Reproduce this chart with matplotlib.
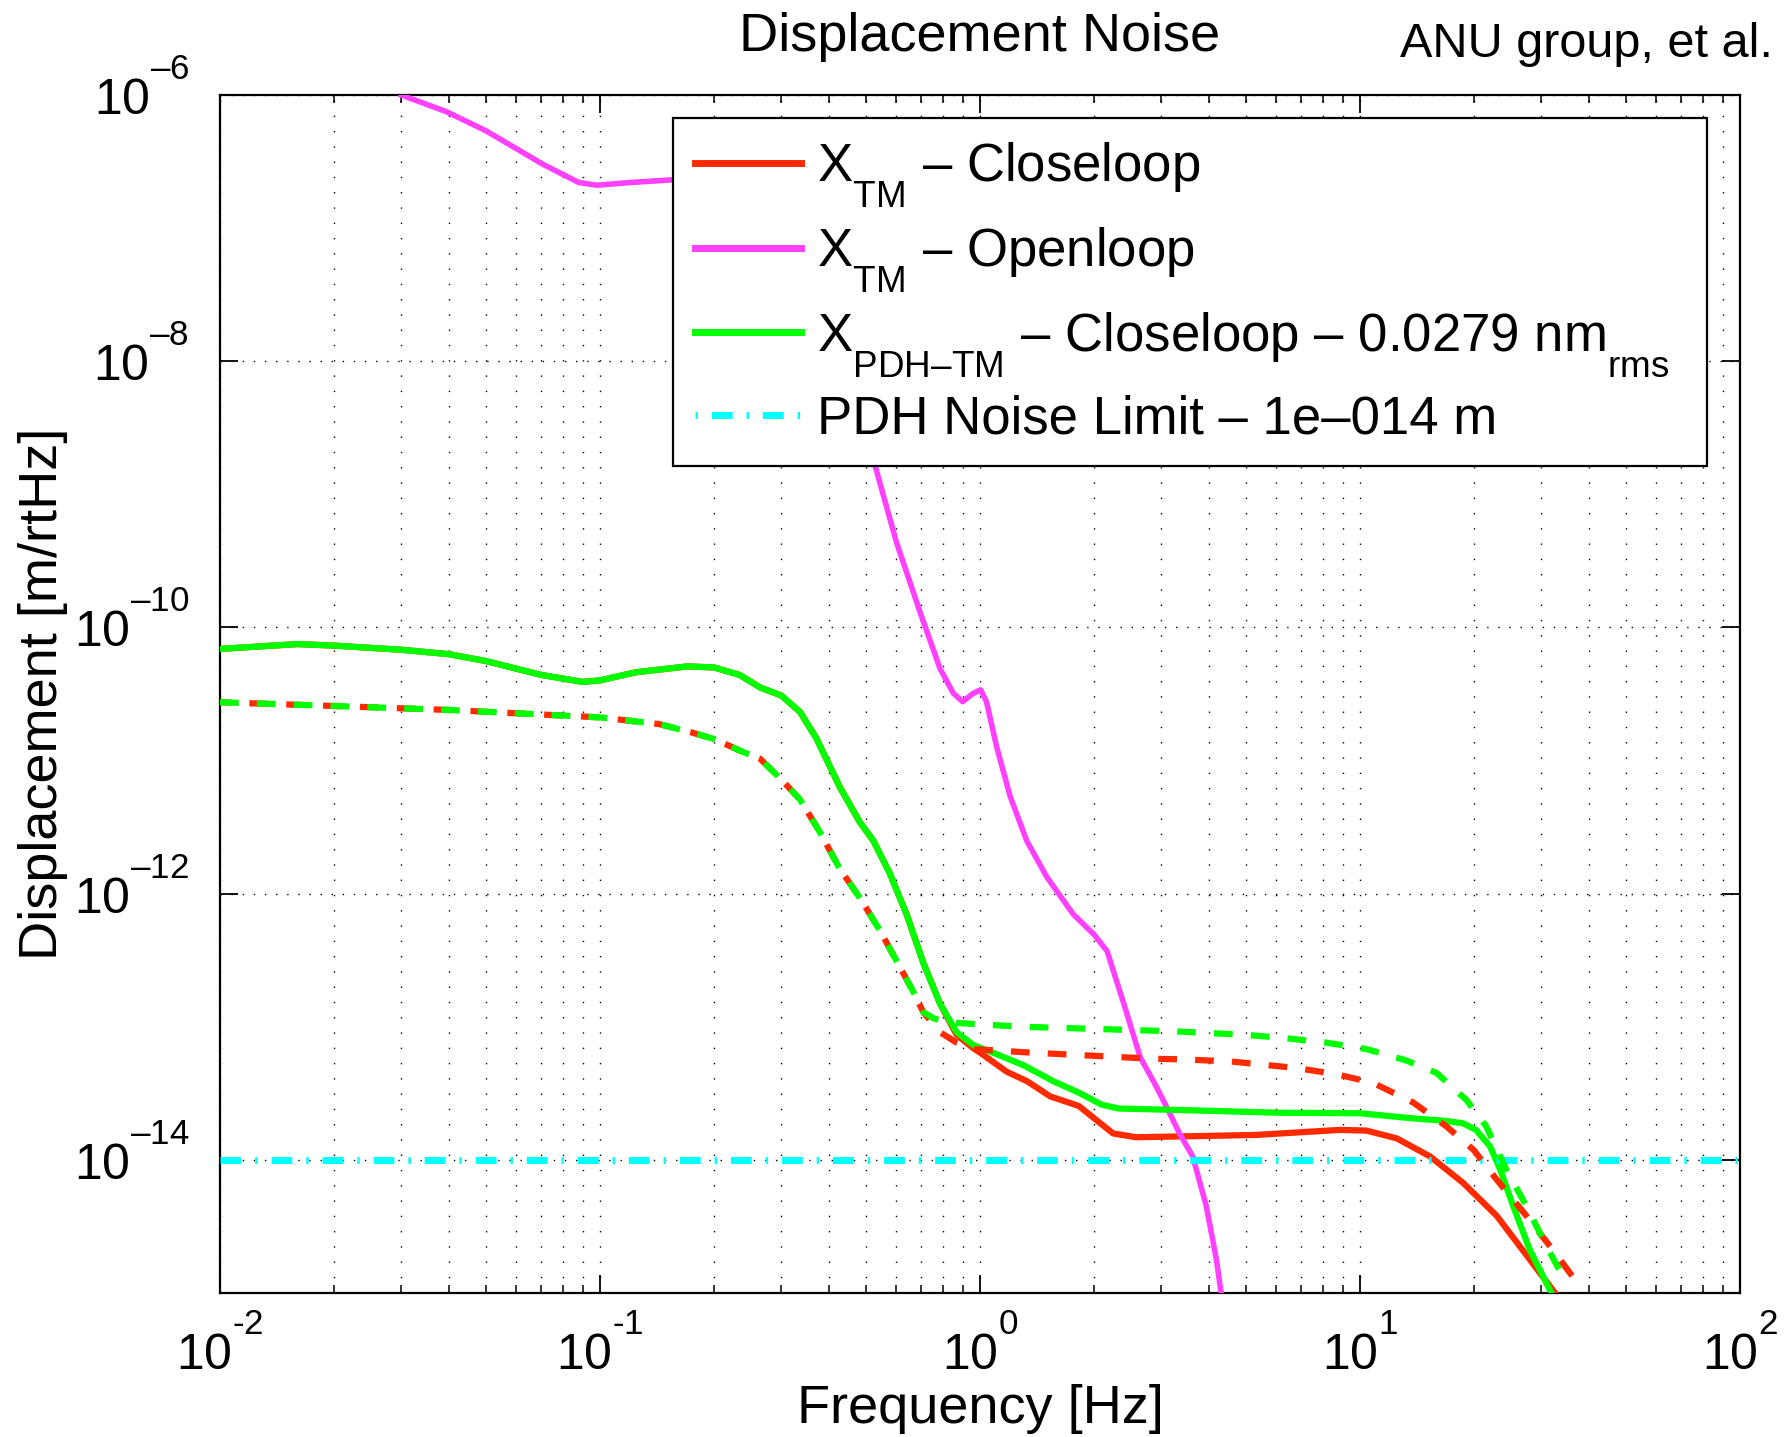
import numpy as np
import matplotlib
matplotlib.use("Agg")
import matplotlib.pyplot as plt
from matplotlib.lines import Line2D
import matplotlib.transforms as mtransforms
from matplotlib.ticker import LogLocator, NullLocator, FixedLocator

plt.rcParams['font.family'] = ['Liberation Sans', 'DejaVu Sans']
plt.rcParams['mathtext.fontset'] = 'custom'
plt.rcParams['mathtext.rm'] = 'Liberation Sans'
plt.rcParams['mathtext.it'] = 'Liberation Sans:italic'
plt.rcParams['mathtext.bf'] = 'Liberation Sans:bold'

# MATLAB-like placement of sub/superscripts (deeper subscripts, higher exponents)
try:
    import matplotlib._mathtext as _mt
    _mt.FontConstantsBase.sub1 = 0.95
    _mt.FontConstantsBase.sup1 = 1.3
except Exception:
    pass

# ---------------- data ----------------
# X_TM closeloop (solid red) [m/rtHz]
f_tm_cl = [0.01, 0.016, 0.02, 0.03, 0.04, 0.05, 0.07, 0.09, 0.1, 0.124, 0.17, 0.2,
           0.233, 0.264, 0.3, 0.336, 0.371, 0.428, 0.483, 0.524, 0.579, 0.641, 0.71,
           0.785, 0.868, 0.96, 1.0, 1.175, 1.33, 1.53, 1.82, 2.02, 2.24, 2.57, 3.35,
           5.33, 8.84, 10.4, 12.5, 15.3, 18.7, 22.9, 26.8, 32.6]
x_tm_cl = [6.9e-11, 7.5e-11, 7.3e-11, 6.8e-11, 6.3e-11, 5.6e-11, 4.4e-11, 3.9e-11,
           4.0e-11, 4.6e-11, 5.1e-11, 5.0e-11, 4.4e-11, 3.54e-11, 3.08e-11, 2.32e-11,
           1.47e-11, 6.3e-12, 3.44e-12, 2.5e-12, 1.42e-12, 7.0e-13, 3.0e-13, 1.49e-13,
           8.7e-14, 6.9e-14, 6.4e-14, 4.6e-14, 3.9e-14, 3.0e-14, 2.54e-14, 2.0e-14,
           1.58e-14, 1.48e-14, 1.5e-14, 1.54e-14, 1.68e-14, 1.66e-14, 1.45e-14,
           1.06e-14, 6.7e-15, 3.8e-15, 2.1e-15, 1.0e-15]

# X_TM openloop (magenta)
f_tm_ol = [0.03, 0.0394, 0.05, 0.071, 0.088, 0.098, 0.12, 0.153, 0.2, 0.3, 0.4, 0.529,
           0.603, 0.695, 0.785, 0.851, 0.90, 0.96, 1.004, 1.04, 1.106, 1.2, 1.327, 1.5,
           1.76, 2.0, 2.16, 2.39, 2.64, 2.86, 3.0, 3.35, 3.63, 3.94, 4.19, 4.31]
x_tm_ol = [1.0e-6, 7.5e-7, 5.4e-7, 3.0e-7, 2.2e-7, 2.1e-7, 2.2e-7, 2.3e-7, 2.4e-7,
           8e-8, 1.3e-8, 1.66e-9, 4.35e-10, 1.31e-10, 4.9e-11, 3.2e-11, 2.77e-11,
           3.2e-11, 3.4e-11, 2.77e-11, 1.27e-11, 5.4e-12, 2.5e-12, 1.33e-12, 7.0e-13,
           4.9e-13, 3.7e-13, 1.49e-13, 5.9e-14, 3.9e-14, 3.0e-14, 1.58e-14, 1.06e-14,
           4.5e-15, 1.78e-15, 1.0e-15]

# X_PDH-TM closeloop (solid green)
f_pdh_cl = [0.01, 0.016, 0.02, 0.03, 0.04, 0.05, 0.07, 0.09, 0.1, 0.124, 0.17, 0.2,
            0.233, 0.264, 0.3, 0.336, 0.371, 0.428, 0.483, 0.524, 0.579, 0.641, 0.71,
            0.785, 0.868, 0.96, 1.08, 1.3, 1.56, 1.82, 2.09, 2.32, 3.35, 6.14, 10.0,
            13.8, 16.9, 18.7, 20.2, 22.0, 23.4, 25.3, 28.0, 31.9]
x_pdh_cl = [6.9e-11, 7.5e-11, 7.3e-11, 6.8e-11, 6.3e-11, 5.6e-11, 4.4e-11, 3.9e-11,
            4.0e-11, 4.6e-11, 5.1e-11, 5.0e-11, 4.4e-11, 3.54e-11, 3.08e-11, 2.32e-11,
            1.47e-11, 6.3e-12, 3.44e-12, 2.5e-12, 1.42e-12, 7.0e-13, 3.0e-13, 1.49e-13,
            9.1e-14, 7.3e-14, 6.4e-14, 5.15e-14, 3.9e-14, 3.2e-14, 2.6e-14, 2.43e-14,
            2.37e-14, 2.26e-14, 2.24e-14, 2.05e-14, 1.96e-14, 1.88e-14, 1.68e-14,
            1.26e-14, 8.4e-15, 4.5e-15, 2.1e-15, 1.0e-15]

# X_TM closeloop, second configuration (dashed red)
f_tm_cl2 = [0.01, 0.02, 0.04, 0.1, 0.143, 0.175, 0.2, 0.233, 0.264, 0.3, 0.336, 0.379,
            0.428, 0.483, 0.545, 0.616, 0.667, 0.709, 0.785, 0.868, 0.96, 1.355, 2.86,
            3.35, 4.54, 6.8, 8.67, 10.8, 13.8, 16.9, 19.9, 22.9, 27.4, 32.2, 37.9]
x_tm_cl2 = [2.74e-11, 2.57e-11, 2.4e-11, 2.11e-11, 1.88e-11, 1.62e-11, 1.45e-11,
            1.19e-11, 1.03e-11, 7.2e-12, 5.1e-12, 2.9e-12, 1.53e-12, 9.3e-13, 5.3e-13,
            2.8e-13, 1.84e-13, 1.29e-13, 9.1e-14, 7.6e-14, 6.8e-14, 6.4e-14, 5.75e-14,
            5.7e-14, 5.5e-14, 4.9e-14, 4.4e-14, 3.8e-14, 2.7e-14, 1.78e-14, 1.19e-14,
            7.1e-15, 3.8e-15, 2.1e-15, 1.12e-15]

# X_PDH-TM closeloop, second configuration (dashed green)
f_pdh_cl2 = [0.01, 0.02, 0.04, 0.1, 0.143, 0.175, 0.2, 0.233, 0.264, 0.3, 0.336, 0.379,
             0.428, 0.483, 0.545, 0.616, 0.667, 0.709, 0.754, 0.817, 0.96, 1.3, 2.69,
             3.35, 5.0, 6.4, 8.15, 10.4, 13.2, 15.9, 19.1, 21.5, 24.3, 27.4, 31.0, 34.9]
x_pdh_cl2 = [2.74e-11, 2.57e-11, 2.4e-11, 2.11e-11, 1.88e-11, 1.62e-11, 1.45e-11,
             1.19e-11, 1.03e-11, 7.2e-12, 5.1e-12, 2.9e-12, 1.53e-12, 9.3e-13, 5.3e-13,
             2.8e-13, 1.84e-13, 1.29e-13, 1.16e-13, 1.08e-13, 1.05e-13, 1.0e-13, 9.4e-14,
             9.2e-14, 8.7e-14, 8.2e-14, 7.6e-14, 6.8e-14, 5.6e-14, 4.5e-14, 2.8e-14,
             1.78e-14, 8.4e-15, 4.5e-15, 2.24e-15, 1.19e-15]

# PDH noise limit
f_pdh_lim = [0.01, 100.0]
x_pdh_lim = [1e-14, 1e-14]

labels = [r"X$_{\mathregular{TM}}$ – Closeloop",
          r"X$_{\mathregular{TM}}$ – Openloop",
          r"X$_{\mathregular{PDH–TM}}$ – Closeloop – 0.0279 nm$_{\mathregular{rms}}$",
          "PDH Noise Limit – 1e–014 m"]

xtick_vals = [1e-2, 1e-1, 1e0, 1e1, 1e2]
xtick_exps = ["\u20102", "\u20101", "0", "1", "2"]
ytick_vals = [1e-6, 1e-8, 1e-10, 1e-12, 1e-14]
ytick_exps = ["–6", "–8", "–10", "–12", "–14"]

RED = '#ff2a00'
MAG = '#ff40ff'
GRN = '#00ff00'
CYN = '#00ffff'

# ---------------- figure ----------------
W, H = 1788, 1437
fig = plt.figure(figsize=(W / 100, H / 100), dpi=100)
ax = fig.add_axes([220 / W, 1 - 1293 / H, (1740 - 220) / W, (1293 - 95) / H])
ax.set_xscale('log')
ax.set_yscale('log')
ax.set_xlim(1e-2, 1e2)
ax.set_ylim(1e-15, 1e-6)

lw = 4.5
ax.plot(f_tm_cl, x_tm_cl, color=RED, lw=lw, solid_joinstyle='round', zorder=3)
ax.plot(f_tm_ol, x_tm_ol, color=MAG, lw=4.0, solid_joinstyle='round', zorder=3)
ax.plot(f_pdh_cl, x_pdh_cl, color=GRN, lw=lw, solid_joinstyle='round', zorder=3)
ax.plot(f_pdh_lim, x_pdh_lim, color=CYN, lw=5.0,
        linestyle=(0, (3.0, 2.0, 0.35, 2.0)), zorder=3)
ax.plot(f_tm_cl2, x_tm_cl2, color=RED, lw=lw, linestyle=(1.2, (3.0, 2.9)), zorder=3)
ax.plot(f_pdh_cl2, x_pdh_cl2, color=GRN, lw=lw, linestyle=(0, (3.0, 2.9)), zorder=3)

# ticks
ax.yaxis.set_major_locator(FixedLocator(ytick_vals))
ax.yaxis.set_minor_locator(NullLocator())
ax.xaxis.set_major_locator(FixedLocator(xtick_vals))
ax.xaxis.set_minor_locator(LogLocator(base=10, subs=np.arange(2, 10), numticks=20))
ax.tick_params(which='both', direction='in', top=True, right=True,
               labelbottom=False, labelleft=False, color='k')
ax.tick_params(which='major', length=13, width=1.3)
ax.tick_params(which='minor', length=6, width=1.1)
for s in ax.spines.values():
    s.set_linewidth(1.6)

# grid (dotted, MATLAB style)
ax.grid(True, which='major', axis='y', color='k', lw=1.0, linestyle=(0, (1, 7)))
ax.grid(True, which='both', axis='x', color='k', lw=1.0, linestyle=(0, (1, 10)))
ax.set_axisbelow(True)

# tick labels drawn as text
fs_tick = 36
tx = mtransforms.blended_transform_factory(ax.transData, ax.transAxes)
for v, e in zip(xtick_vals, xtick_exps):
    ax.text(v, 0, r"$\mathregular{10^{%s}}$" % e,
            transform=tx + mtransforms.ScaledTranslation(0, -0.77, fig.dpi_scale_trans),
            ha='center', va='baseline', fontsize=fs_tick, clip_on=False)
ty = mtransforms.blended_transform_factory(ax.transAxes, ax.transData)
for v, e in zip(ytick_vals, ytick_exps):
    ax.text(0, v, r"$\mathregular{10^{%s}}$" % e,
            transform=ty + mtransforms.ScaledTranslation(-0.31, -0.20, fig.dpi_scale_trans),
            ha='right', va='baseline', fontsize=fs_tick, clip_on=False)

# axis labels, title
fig.text(0.5 * (220 + 1740) / W, 1 - 1423 / H, "Frequency [Hz]", ha='center',
         va='baseline', fontsize=39)
fig.text(43 / W, 1 - 0.5 * (95 + 1293) / H, "Displacement [m/rtHz]", rotation=90,
         ha='center', va='center', fontsize=39)
fig.text(0.5 * (220 + 1740) / W, 1 - 51 / H, "Displacement Noise", ha='center',
         va='baseline', fontsize=39)
fig.text(1773 / W, 1 - 57 / H, "ANU group, et al.", ha='right', va='baseline',
         fontsize=35)

# legend
handles = [Line2D([], [], color=RED, lw=5),
           Line2D([], [], color=MAG, lw=5),
           Line2D([], [], color=GRN, lw=5),
           Line2D([], [], color=CYN, lw=5, linestyle=(0, (0.35, 2.0, 3.0, 2.0)))]
leg = ax.legend(handles, labels, loc='upper left',
                bbox_to_anchor=(673 / W, 1 - 118 / H, (1707 - 673) / W, 0.0),
                bbox_transform=fig.transFigure, mode='expand', borderaxespad=0,
                borderpad=0.42, handlelength=2.0, handletextpad=0.3, labelspacing=0.29,
                fontsize=38, fancybox=False, framealpha=1, edgecolor='k')
leg.get_frame().set_linewidth(1.6)
leg.set_zorder(10)

fig.savefig("out.png", dpi=100, facecolor='white')
